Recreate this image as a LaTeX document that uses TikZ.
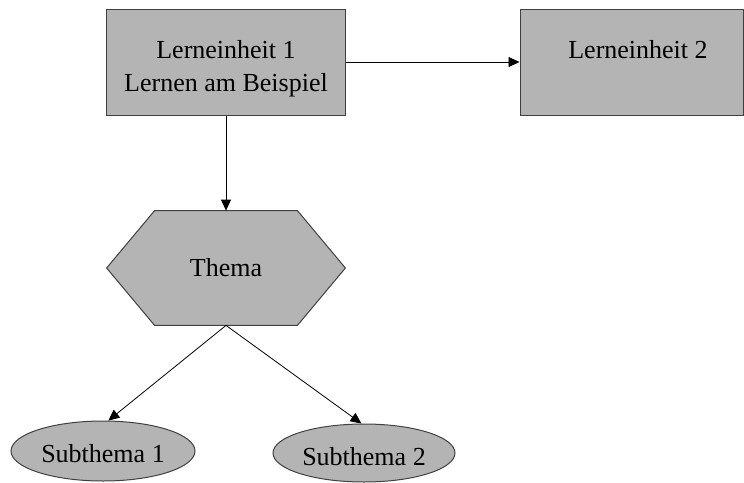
\documentclass[tikz,border=0pt]{standalone}
\usepackage{fontspec}
\setmainfont{Liberation Serif}
\usetikzlibrary{arrows.meta,shapes.geometric,calc,backgrounds}
\definecolor{shapefill}{HTML}{B4B4B4}
\definecolor{shapeline}{HTML}{404040}
\tikzset{
  shapestyle/.style={fill=shapefill,draw=shapeline,line width=0.5pt},
  boxnode/.style={shapestyle,rectangle,inner sep=0pt,align=center},
  ellnode/.style={shapestyle,ellipse,inner sep=0pt},
  conn/.style={draw=black,line width=0.4pt,-{Triangle[length=5.5pt,width=5pt]}},
  lbl/.style={font=\fontsize{13}{16.3}\selectfont,text=black,align=center}
}
\begin{document}
\begin{tikzpicture}[x=0.5pt,y=-0.5pt]
\useasboundingbox (0,0) rectangle (744,482);
% boxes
\node[boxnode,minimum width=119.5pt,minimum height=53pt] (le1) at (226,62) {};
\node[lbl] (le1t) at (226,69) {Lerneinheit 1\\Lernen am Beispiel};
\node[boxnode,minimum width=111.5pt,minimum height=53pt] (le2) at (631.5,62) {};
\node[lbl] (le2t) at (638,50) {Lerneinheit 2};
% hexagon
\node[rectangle,minimum width=119pt,minimum height=57pt,inner sep=0pt,lbl] (thema) at (226,268) {Thema};
\begin{scope}[on background layer]
\draw[shapestyle] (thema.west) -- ($(thema.north west)+(48,0)$) -- ($(thema.north east)+(-48,0)$) -- (thema.east) -- ($(thema.south east)+(-48,0)$) -- ($(thema.south west)+(48,0)$) -- cycle;
\end{scope}
% ellipses
\node[ellnode,minimum width=92pt,minimum height=30pt] (sub1) at (103,451) {};
\node[lbl] (sub1t) at (103,454) {Subthema 1};
\node[ellnode,minimum width=91pt,minimum height=29pt] (sub2) at (364,453) {};
\node[lbl] (sub2t) at (364,457) {Subthema 2};
% connectors
\draw[conn] (le1.east) -- (le2.west);
\draw[conn] (le1.south) -- (thema.north);
\draw[conn] (thema.south) -- (sub1.80);
\draw[conn] (thema.south) -- (sub2.95);
\end{tikzpicture}
\end{document}
